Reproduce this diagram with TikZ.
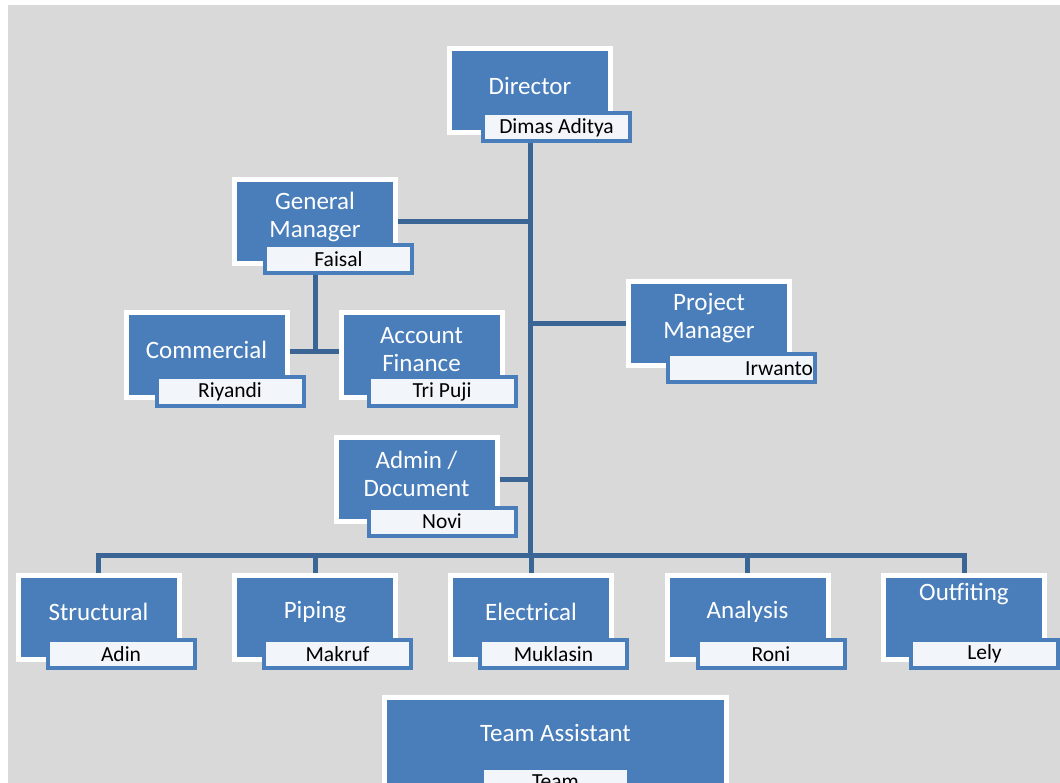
\documentclass[tikz,border=0pt]{standalone}
\usepackage{fontspec}
\setmainfont{Carlito}
\usetikzlibrary{positioning,calc}
\definecolor{boxblue}{HTML}{4A7EBB}
\definecolor{linkblue}{HTML}{3A6595}
\definecolor{paper}{HTML}{D9D9D9}
\definecolor{tagtint}{HTML}{F2F6FB}
\tikzset{
	unit/.style={fill=boxblue, draw=white, line width=5pt, minimum width=161pt, minimum height=84pt, inner sep=0pt},
	ttl/.style={text=white, font=\fontsize{25}{28}\selectfont, align=center, yshift=5.5pt},
	nametag/.style={fill=tagtint, draw=boxblue, line width=4pt, minimum width=147pt, minimum height=28pt, inner sep=0pt, anchor=south east, text=black, font=\fontsize{21.5}{24}\selectfont},
	link/.style={draw=linkblue, line width=5pt}
}
\begin{document}
\begin{tikzpicture}[x=1pt, y=-1pt]
	\useasboundingbox (0,0) rectangle (1060,783);
	\fill[white] (0,0) rectangle (1060,783);
	\fill[paper] (8,5) rectangle (1060,783);

	% top of the chart
	\node[unit, label={[ttl]center:Director}] (dir) at (530,91) {};
	\node[nametag] (dirn) at ([xshift=19pt, yshift=-8pt]dir.south east) {Dimas Aditya};

	\node[unit, label={[ttl]center:{General\\Manager}}] (gm) at (315,222) {};
	\node[nametag] (gmn) at ([xshift=16pt, yshift=-9pt]gm.south east) {Faisal};

	\node[unit, label={[ttl]center:Commercial}] (com) at (206.5,355) {};
	\node[nametag] (comn) at ([xshift=16pt, yshift=-8pt]com.south east) {Riyandi};

	\node[unit, label={[ttl]center:{Account\\Finance}}] (af) at (421.5,355) {};
	\node[nametag] (afn) at ([xshift=13pt, yshift=-8pt]af.south east) {Tri Puji};

	\node[unit, label={[ttl]center:{Project\\Manager}}] (pm) at (709,324) {};
	\node[nametag, text width=143pt, align=right] (pmn) at ([xshift=25pt, yshift=-16pt]pm.south east) {Irwanto};

	\node[unit, label={[ttl]center:{Admin /\\Document}}] (adm) at (416.5,479) {};
	\node[nametag] (admn) at ([xshift=18pt, yshift=-14pt]adm.south east) {Novi};

	% divisions
	\node[unit, label={[ttl]center:Structural}] (str) at (98.5,617.5) {};
	\node[nametag] (strn) at ([xshift=15pt, yshift=-8pt]str.south east) {Adin};

	\node[unit, label={[ttl]center:Piping}] (pip) at (315,617.5) {};
	\node[nametag] (pipn) at ([xshift=15pt, yshift=-8pt]pip.south east) {Makruf};

	\node[unit, label={[ttl]center:Electrical}] (ele) at (531,617.5) {};
	\node[nametag] (elen) at ([xshift=15pt, yshift=-8pt]ele.south east) {Muklasin};

	\node[unit, label={[ttl]center:Analysis}] (ana) at (747.5,617.5) {};
	\node[nametag] (anan) at ([xshift=16pt, yshift=-8pt]ana.south east) {Roni};

	\node[unit, label={[ttl, yshift=18pt]center:Outfiting}] (out) at (964,617.5) {};
	\node[nametag] (outn) at ([xshift=13pt, yshift=-8pt]out.south east) {Lely};

	\node[unit, minimum width=342pt, minimum height=90pt, label={[ttl, yshift=4pt]center:Team Assistant}] (ta) at (555.5,742.5) {};
	\node[nametag, anchor=south] (tan) at ([yshift=-8pt]ta.south) {Team};

	% lines
	\coordinate (bus) at (530,555);
	\draw[link] (dir.south |- dirn.south) -- (bus);
	\draw[link] (dir.south |- dirn.south) |- (gm.east);
	\draw[link] (dir.south |- dirn.south) |- (pm.west);
	\draw[link] (dir.south |- dirn.south) |- (adm.east);
	\draw[link] ($(com.east)+(0,-3)$) -- ($(af.west)+(0,-3)$);
	\draw[link] (gm.south |- gmn.south) -- ($(gm.south |- com.east)+(0,-3)$);
	\foreach \d in {str,pip,ele,ana,out}
		\draw[link] (bus) -| (\d.north);

\end{tikzpicture}
\end{document}
